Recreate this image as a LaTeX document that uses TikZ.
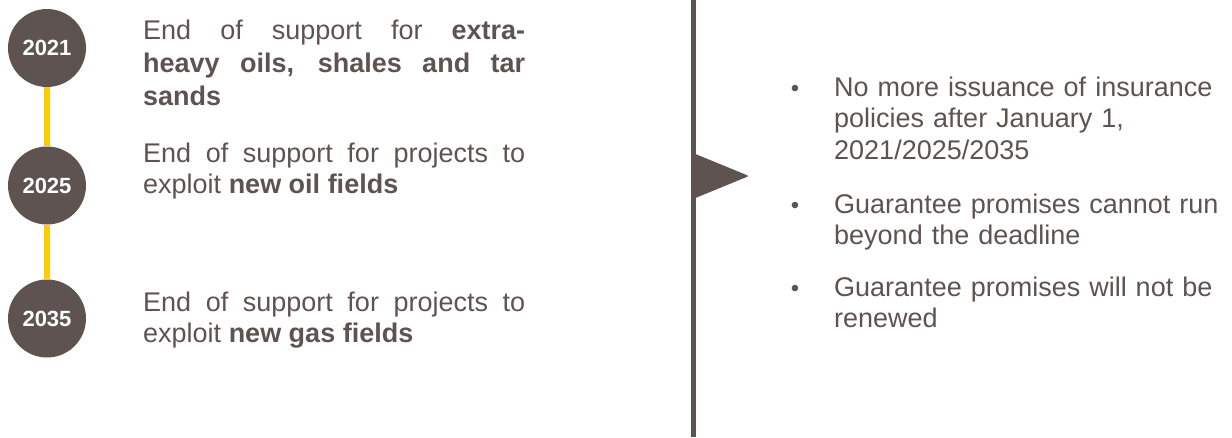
\documentclass[tikz,border=0pt]{standalone}
\usepackage{fontspec}
\setmainfont{Liberation Sans}
\usetikzlibrary{positioning}

\definecolor{taupe}{RGB}{94,83,80}
\definecolor{amber}{RGB}{255,204,0}

\tolerance=9999
\hbadness=10000

\begin{document}
\begin{tikzpicture}[
    x=1pt, y=-1pt,
    year/.style={circle, fill=taupe, text=white, minimum size=78pt, inner sep=0pt, font=\fontsize{22}{26}\selectfont\bfseries},
    event/.style={anchor=base west, inner sep=0pt, text width=382pt, align=justify, text=taupe, font=\fontsize{27}{31}\selectfont},
    point/.style={anchor=base west, inner sep=0pt, text width=398pt, align=left, text=taupe, font=\fontsize{27}{31.5}\selectfont},
    bullet/.style={anchor=base, inner sep=0pt, text=taupe, font=\fontsize{24}{28}\selectfont},
    link/.style={draw=amber, line width=6pt}
]
    \useasboundingbox (0,0) rectangle (1232,437);

    % Timeline years
    \node [year] (y2021) at (47,48) {2021};
    \node [year] (y2025) at (47,185.5) {2025};
    \node [year] (y2035) at (47,318.5) {2035};

    \path [link] (y2021.south) -- (y2025.north);
    \path [link] (y2025.south) -- (y2035.north);

    % Milestones
    \node [event, font=\fontsize{27}{33}\selectfont] (tarsands) at (143,39) {End of support for \textbf{extra-}\linebreak\textbf{heavy oils, shales and tar}\linebreak\textbf{sands}};
    \node [event] (oilfields) at (143,162) {End of support for projects to\linebreak exploit \textbf{new oil fields}};
    \node [event] (gasfields) at (143,311) {End of support for projects to\linebreak exploit \textbf{new gas fields}};

    % Divider with flag
    \draw [taupe, line width=5.5pt] (693.5,0) -- (693.5,437);
    \fill [taupe, rounded corners=2pt] (693,153) -- (749,176) -- (693,199) -- cycle;

    % Consequences
    \node [bullet] (dot1) at (795,96) {\textbullet};
    \node [point] (issuance) at (834,96) {No more issuance of insurance\\policies after January 1,\\2021/2025/2035};
    \node [bullet] (dot2) at (795,213) {\textbullet};
    \node [point] (deadline) at (834,213) {Guarantee promises cannot run\\beyond the deadline};
    \node [bullet] (dot3) at (795,296) {\textbullet};
    \node [point] (renewal) at (834,296) {Guarantee promises will not be\\renewed};

\end{tikzpicture}
\end{document}
